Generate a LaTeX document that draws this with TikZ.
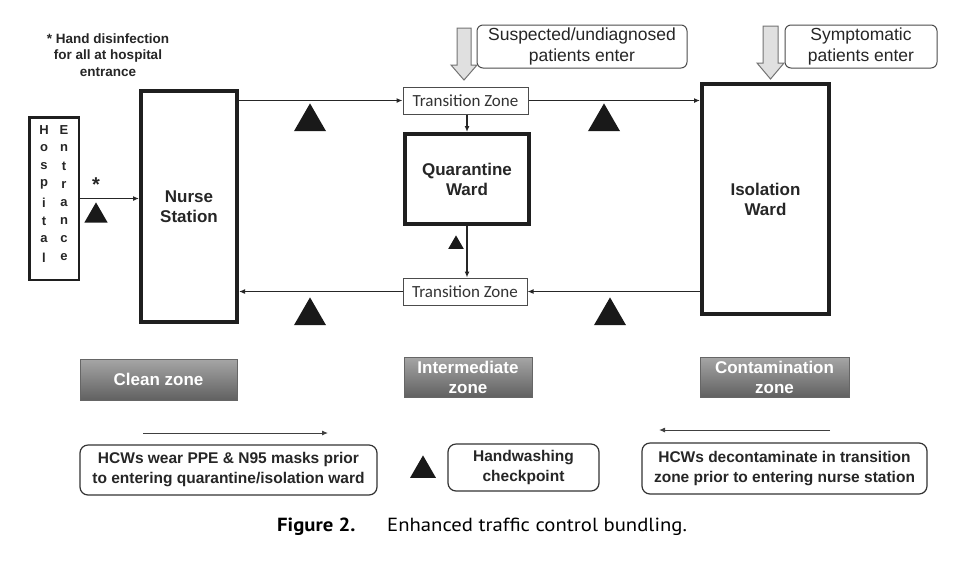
\documentclass[tikz,border=0pt]{standalone}
\usepackage{fontspec}
\setmainfont{Liberation Sans}
\newfontfamily\calibri{Carlito}
\newfontfamily\capfont[FakeStretch=1.09]{PT Sans}
\usetikzlibrary{shapes.geometric, arrows.meta}
\tikzstyle{ward} = [draw=black!88, line width=4pt, align=center, text=black!85, font=\bfseries\fontsize{17}{20}\selectfont]
\tikzstyle{entrance} = [draw=black!88, line width=2.5pt, inner sep=0pt]
\tikzstyle{letter} = [inner sep=0pt, text=black!85, font=\bfseries\fontsize{13}{15}\selectfont]
\tikzstyle{tzone} = [draw=black!70, line width=1pt, text=black!80, font=\calibri\fontsize{17}{19}\selectfont]
\tikzstyle{callout} = [draw=black!70, line width=1pt, rounded corners=6pt, align=center, text=black!85, font=\fontsize{17.5}{21}\selectfont]
\tikzstyle{zone} = [draw=black!60, line width=0.8pt, top color=black!35, bottom color=black!62, align=center, text=white, font=\bfseries\fontsize{17}{20}\selectfont]
\tikzstyle{legend} = [draw=black!80, line width=1.2pt, rounded corners=8pt, align=center, text=black!85, font=\bfseries\fontsize{15.5}{20}\selectfont]
\tikzstyle{check} = [regular polygon, regular polygon sides=3, fill=black!90, inner sep=0pt, anchor=corner 1]
\tikzstyle{flow} = [->, line width=1.5pt, draw=black!85]
\tikzstyle{enter} = [fill=black!12, draw=black!55, line width=1pt]

\begin{document}
\begin{tikzpicture}[x=1pt, y=-1pt, >={Latex[length=6pt, width=5pt]}]
    \fill[white] (0,0) rectangle (966,566);
    \useasboundingbox (0,0) rectangle (966,566);
    %\draw[help lines, step=50] (0,0) grid (966,566);

    % rooms
    \node[align=center, text=black!85, font=\bfseries\fontsize{13.5}{16.8}\selectfont] (handnote) at (108, 55) {* Hand disinfection\\for all at hospital\\entrance};
    \node[entrance, minimum width=49.5, minimum height=162.5] (entrance) at (54, 198.5) {};
    \foreach \c [count=\i] in {H,o,s,p,i,t,a,l} {
        \node[letter] (hosp\i) at (44, {130+18.2*(\i-1)}) {\c};
    }
    \foreach \c [count=\i] in {E,n,t,r,a,n,c,e} {
        \node[letter] (entr\i) at (64, {130+18.2*(\i-1)}) {\c};
    }
    \node[ward, minimum width=96, minimum height=231] (nurse) at (189, 206.5) {Nurse\\Station};
    \node[tzone, minimum width=125, minimum height=27] (tz1) at (465.5, 100.5) {Transition Zone};
    \node[ward, minimum width=124, minimum height=90] (quar) at (467, 179) {Quarantine\\Ward};
    \node[tzone, minimum width=124, minimum height=27] (tz2) at (465, 291.5) {Transition Zone};
    \node[ward, minimum width=127, minimum height=230] (iso) at (765.5, 199) {Isolation\\Ward};

    % patients coming in
    \draw[enter] (457,28) -- (471,28) -- (471,65) -- (477,65) -- (464,80) -- (451,65) -- (457,65) -- cycle;
    \draw[enter] (763,26) -- (778,26) -- (778,63) -- (784,63) -- (770.5,79) -- (757,63) -- (763,63) -- cycle;
    \node[callout, minimum width=210, minimum height=43, inner sep=0pt] (suspect) at (582, 46.5) {Suspected/undiagnosed\\patients enter};
    \node[callout, minimum width=152, minimum height=43, inner sep=0pt] (sympt) at (861, 46.5) {Symptomatic\\patients enter};

    % traffic
    \draw[flow] (entrance.east) -- (entrance.east -| nurse.west);
    \draw[flow] (nurse.east |- tz1.west) -- (tz1.west);
    \draw[flow] (tz1.east) -- (tz1.east -| iso.west);
    \draw[flow] (tz1.south -| quar.north) -- (quar.north);
    \draw[flow] (quar.south) -- (quar.south |- tz2.north);
    \draw[flow] (iso.west |- tz2.east) -- (tz2.east);
    \draw[flow] (tz2.west) -- (tz2.west -| nurse.east);

    % handwashing checkpoints
    \node[text=black!85, font=\bfseries\fontsize{20}{20}\selectfont] (star) at (96, 185) {*};
    \node[check, minimum size=27] (hw0) at (96, 202) {};
    \node[check, minimum size=37] (hw1) at (310, 103) {};
    \node[check, minimum size=37] (hw2) at (604, 103) {};
    \node[check, minimum size=37] (hw3) at (310, 297) {};
    \node[check, minimum size=37] (hw4) at (610, 297) {};
    \node[check, minimum size=18] (hw5) at (456, 235) {};

    % zones
    \node[zone, minimum width=157, minimum height=41] (clean) at (158.5, 379.5) {Clean zone};
    \node[zone, minimum width=128, minimum height=40, inner sep=0pt] (inter) at (468, 377) {Intermediate\\zone};
    \node[zone, minimum width=149, minimum height=40, inner sep=0pt] (contam) at (774.5, 377) {Contamination\\zone};

    % legend
    \coordinate (wearA) at (143, 433);
    \coordinate (wearB) at (328, 433);
    \coordinate (deconA) at (830, 430);
    \coordinate (deconB) at (659, 430);
    \draw[->, line width=1pt, draw=black!75] (wearA) -- (wearB);
    \draw[->, line width=1pt, draw=black!75] (deconA) -- (deconB);
    \node[legend, minimum width=297, minimum height=50] (wear) at (228.5, 470) {HCWs wear PPE \& N95 masks prior\\to entering quarantine/isolation ward};
    \node[check, minimum size=30] (hwkey) at (423, 455) {};
    \node[legend, minimum width=151, minimum height=47] (hwtext) at (523.5, 467.5) {Handwashing\\checkpoint};
    \node[legend, minimum width=285, minimum height=51] (decon) at (784.5, 468.5) {HCWs decontaminate in transition\\zone prior to entering nurse station};

    % caption
    \node[anchor=west, inner sep=0pt, font=\capfont\bfseries\fontsize{19}{22}\selectfont] (figlabel) at (277, 527) {Figure 2.};
    \node[anchor=west, inner sep=0pt, font=\capfont\fontsize{19}{22}\selectfont] (figtitle) at (387, 527) {Enhanced traffic control bundling.};
\end{tikzpicture}
\end{document}
